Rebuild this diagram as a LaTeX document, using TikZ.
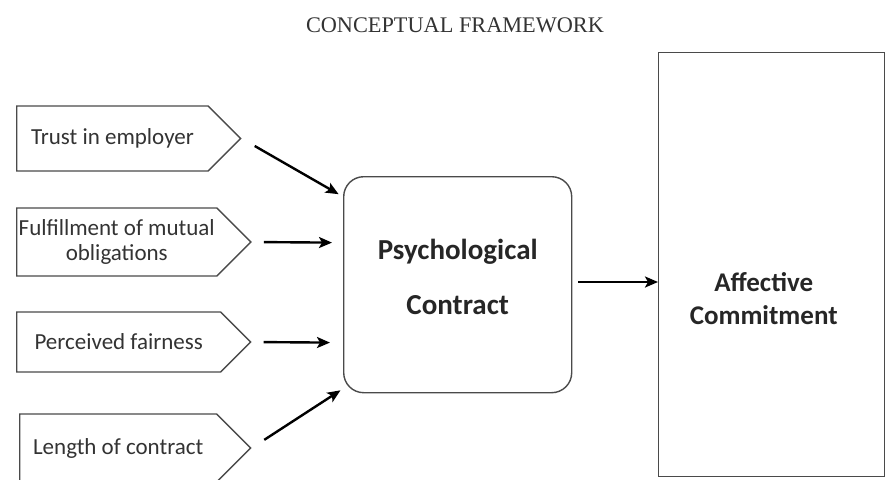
\documentclass[tikz,border=0pt]{standalone}
\usepackage{fontspec}
\setmainfont{Liberation Serif}
\setsansfont{Carlito}
\usetikzlibrary{shapes.symbols,arrows.meta,calc,positioning}
\definecolor{boxgray}{HTML}{4A4A4A}
\definecolor{textgray}{HTML}{333333}
\tikzset{
  factor/.style={signal, signal to=east, signal from=nothing, signal pointer angle=90,
    draw=boxgray, line width=1.4pt, anchor=west, inner sep=2pt, align=center,
    text=textgray, font=\sffamily\fontsize{23}{25}\selectfont},
  block/.style={draw=boxgray, line width=1.4pt, anchor=north west, inner sep=0pt},
  blocktext/.style={align=center, text=black!85, font=\sffamily\bfseries#1\selectfont},
  link/.style={-{Stealth[length=13pt,width=11pt,inset=3pt]}, line width=2.4pt},
}
\begin{document}
\begin{tikzpicture}[x=1pt,y=-1pt]
  \useasboundingbox (0,0) rectangle (885,479);
  %TITLE
  \node[text=textgray, font=\fontsize{22.3}{25}\selectfont] (title) at (455,25) {CONCEPTUAL FRAMEWORK};
  %FACTORS
  \node[factor, minimum width=224pt, minimum height=65pt] (trust) at (16,138.5) {Trust in employer};
  \node[factor, minimum width=234pt, minimum height=68pt] (fulfil) at (16,242) {Fulfillment of mutual\\obligations};
  \node[factor, minimum width=234pt, minimum height=60pt] (fair) at (16,342) {Perceived fairness};
  \node[factor, minimum width=231pt, minimum height=68pt] (length) at (19,448) {Length of contract};
  %BLOCKS
  \node[block, rounded corners=20pt, minimum width=228pt, minimum height=216pt] (pc) at (343,176) {};
  \node[blocktext=\fontsize{29}{55}] (pctext) at ([yshift=8pt]pc.center) {Psychological\\Contract};
  \node[block, minimum width=226pt, minimum height=424pt] (ac) at (658,52) {};
  \node[blocktext=\fontsize{27}{33}] (actext) at ([xshift=-8pt,yshift=-34pt]ac.center) {Affective\\Commitment};
  %ARROWS
  \draw[link, shorten <=15pt, shorten >=5pt] (trust.east) -- ([yshift=88pt]pc.west);
  \draw[link, shorten <=12pt, shorten >=11pt] (fulfil.east) -- ([yshift=42pt]pc.west);
  \draw[link, shorten <=12pt, shorten >=13pt] (fair.east) -- ([yshift=-58pt]pc.west);
  \draw[link, shorten <=15pt, shorten >=3pt] (length.east) -- ([yshift=-104pt]pc.west);
  \draw[link, shorten <=6pt] (pc.east |- 0,282) -- (ac.west |- 0,282);
\end{tikzpicture}
\end{document}
